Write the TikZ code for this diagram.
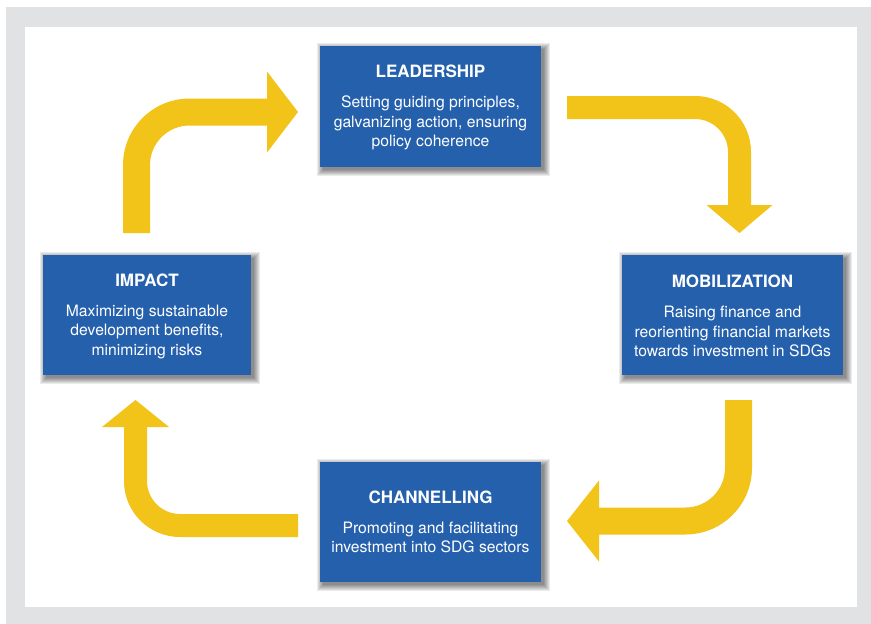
\documentclass[tikz,border=0pt]{standalone}
\usepackage{fontspec}
\setmainfont{TeX Gyre Heros}
\definecolor{arrowyellow}{HTML}{F2C318}
\definecolor{boxblue}{HTML}{2560AD}
\definecolor{framegray}{HTML}{E1E2E4}
\pgfdeclarelayer{framelayer}
\pgfdeclarelayer{shadowlayer}
\pgfsetlayers{framelayer,shadowlayer,main}
\newcommand\boxtitle[1]{{\fontsize{17}{20}\selectfont\bfseries\rule{0pt}{15pt}#1}}
\newcommand\softshadow[1]{%
  \foreach \k in {0,...,6}{%
    \fill[black,opacity=0.08] ([shift={(3-\k,3-\k)}]#1.north west) rectangle ([shift={(3+\k,3+\k)}]#1.south east);
  }%
}
\begin{document}
\begin{tikzpicture}[x=1pt,y=-1pt,
  box/.style={fill=boxblue, text=white, align=center, minimum width=221pt, minimum height=121pt,
    inner sep=0pt, font=\fontsize{15.7}{19.5}\selectfont},
  bigarrow/.style={draw=arrowyellow, line width=27pt, rounded corners=53pt},
  smallarrow/.style={draw=arrowyellow, line width=23pt, rounded corners=44.5pt},
  arrowhead/.style={fill=arrowyellow}]
\useasboundingbox (0,0) rectangle (871,624);
\begin{pgfonlayer}{framelayer}
  \fill[framegray] (6,7) rectangle (871,624);
  \fill[white] (25,27) rectangle (857,607);
\end{pgfonlayer}

\node[box] (lead) at (430.5,106.5) {\boxtitle{LEADERSHIP}\\[10.5pt]Setting guiding principles,\\galvanizing action, ensuring\\policy coherence};
\node[box, minimum height=120pt] (mob) at (732.5,315) {\boxtitle{MOBILIZATION}\\[10.5pt]Raising finance and\\reorienting financial markets\\towards investment in SDGs};
\node[box, minimum width=208pt, minimum height=120pt] (imp) at (147,315) {\boxtitle{IMPACT}\\[10.5pt]Maximizing sustainable\\development benefits,\\minimizing risks};
\node[box, minimum height=120pt] (chan) at (430.5,522) {\boxtitle{CHANNELLING}\\[10.5pt]Promoting and facilitating\\investment into SDG sectors\vphantom{g}};

\begin{pgfonlayer}{shadowlayer}
  \softshadow{lead}
  \softshadow{mob}
  \softshadow{imp}
  \softshadow{chan}
\end{pgfonlayer}

% arrow 1: impact -> leadership
\coordinate (a1s) at (136.5,233);
\coordinate (a1c) at (136.5,112);
\coordinate (a1e) at (268,112);
\coordinate (a1h1) at (267,71.5);
\coordinate (a1t) at (298,112);
\coordinate (a1h2) at (267,152.5);
\draw[bigarrow] (a1s) -- (a1c) -- (a1e);
\fill[arrowhead] (a1h1) -- (a1t) -- (a1h2) -- cycle;

% arrow 2: leadership -> mobilization
\coordinate (a2s) at (567,107.5);
\coordinate (a2c) at (739.5,107.5);
\coordinate (a2e) at (739.5,206);
\coordinate (a2h1) at (706.5,205);
\coordinate (a2t) at (739.5,233);
\coordinate (a2h2) at (772.5,205);
\draw[smallarrow] (a2s) -- (a2c) -- (a2e);
\fill[arrowhead] (a2h1) -- (a2t) -- (a2h2) -- cycle;

% arrow 3: mobilization -> channelling
\coordinate (a3s) at (738.5,400);
\coordinate (a3c) at (738.5,521);
\coordinate (a3e) at (598,521);
\coordinate (a3h1) at (599,480.5);
\coordinate (a3t) at (567,521);
\coordinate (a3h2) at (599,561.5);
\draw[bigarrow] (a3s) -- (a3c) -- (a3e);
\fill[arrowhead] (a3h1) -- (a3t) -- (a3h2) -- cycle;

% arrow 4: channelling -> impact
\coordinate (a4s) at (298,525.5);
\coordinate (a4c) at (135.5,525.5);
\coordinate (a4e) at (135.5,426);
\coordinate (a4h1) at (102,427);
\coordinate (a4t) at (135.5,400);
\coordinate (a4h2) at (169,427);
\draw[smallarrow] (a4s) -- (a4c) -- (a4e);
\fill[arrowhead] (a4h1) -- (a4t) -- (a4h2) -- cycle;
\end{tikzpicture}
\end{document}
